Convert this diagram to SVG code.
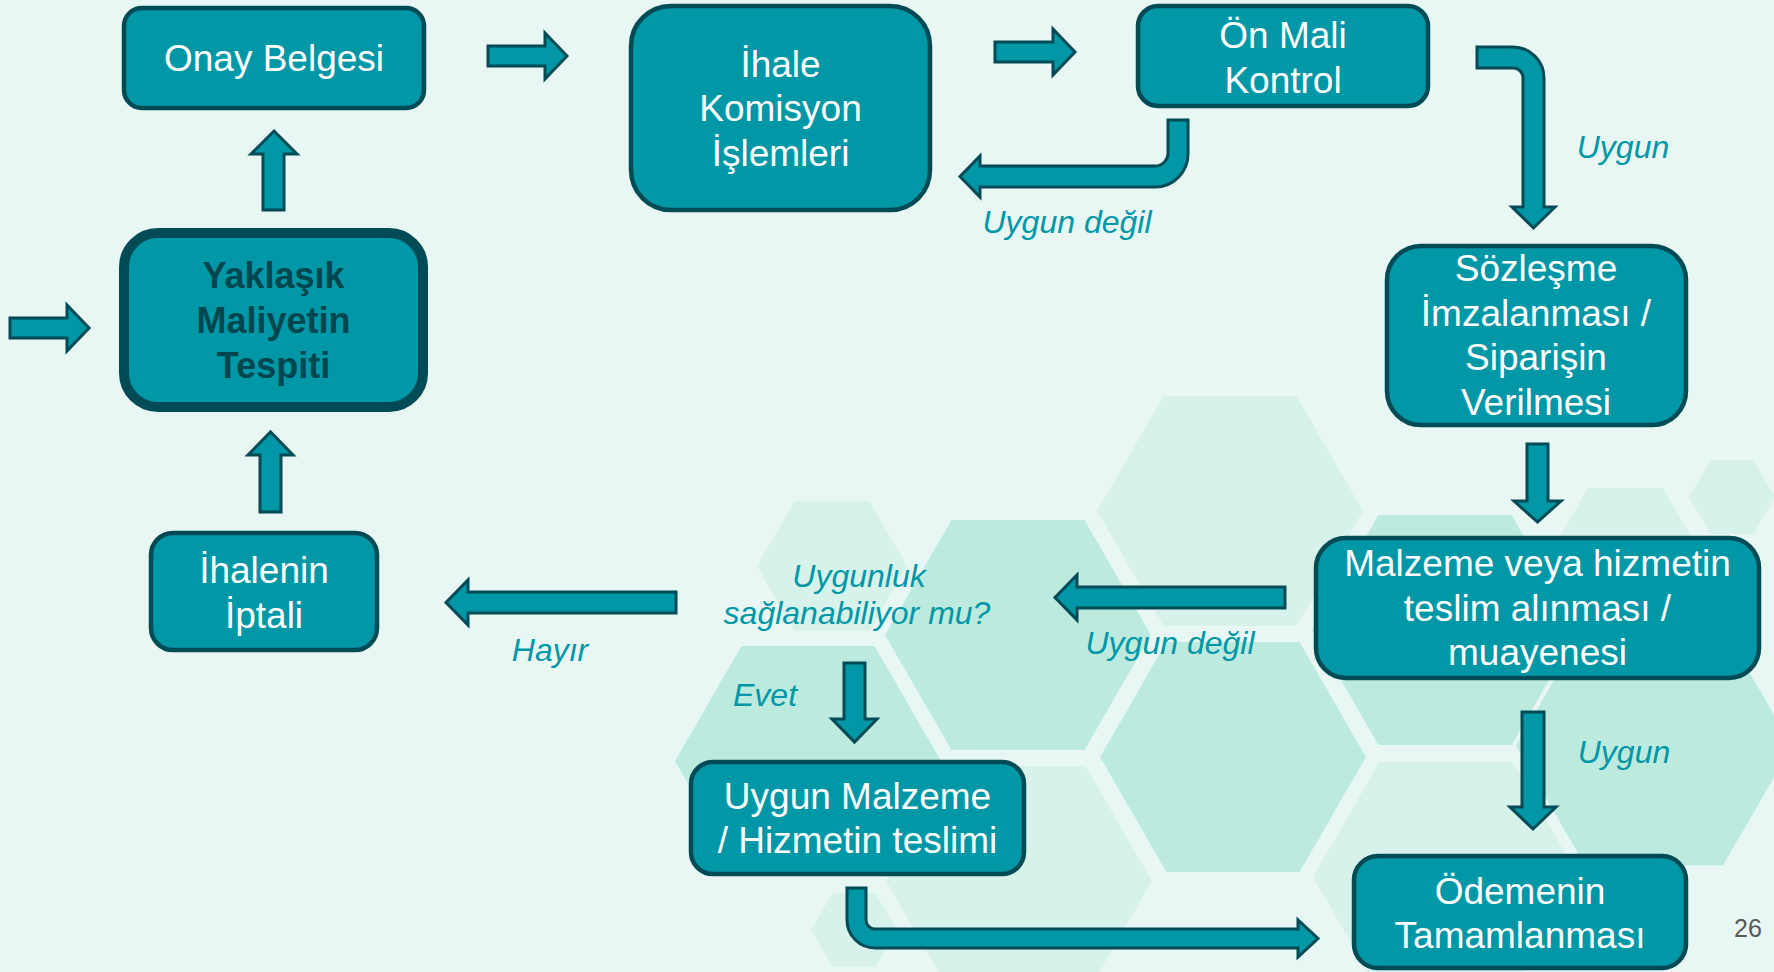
<svg xmlns="http://www.w3.org/2000/svg" width="1774" height="972" viewBox="0 0 1774 972">
<style>
.bg{fill:#e8f7f4}
.hl{fill:#d7f2eb}
.hd{fill:#bdeadf}
.box{fill:#0097a6;stroke:#004b55;stroke-width:4.5}
.boxb{fill:#0097a6;stroke:#004b55;stroke-width:10}
.arr{fill:#0097a6;stroke:#004b55;stroke-width:3;stroke-linejoin:miter}
.t{font-family:"Liberation Sans",Arial,sans-serif;font-size:37px;fill:#ffffff;text-anchor:middle}
.tb{font-family:"Liberation Sans",Arial,sans-serif;font-size:36px;font-weight:bold;fill:#00464f;text-anchor:middle}
.lbl{font-family:"Liberation Sans",Arial,sans-serif;font-size:32px;font-style:italic;fill:#0097a6;text-anchor:middle}
.pg{font-family:"Liberation Sans",Arial,sans-serif;font-size:25px;fill:#595959;text-anchor:middle}
</style>
<rect class="bg" x="0" y="0" width="1774" height="972"/>
<g id="hexagons">
<polygon class="hl" points="1097,511 1163.5,396 1296.5,396 1363,511 1296.5,626 1163.5,626"/>
<polygon class="hd" points="885,635 951.5,520 1084.5,520 1151,635 1084.5,750 951.5,750"/>
<polygon class="hd" points="675,761 741.5,646 874.5,646 941,761 874.5,876 741.5,876"/>
<polygon class="hl" points="757,566 794.5,501 869.5,501 907,566 869.5,631 794.5,631"/>
<polygon class="hl" points="886,881 952.5,766 1085.5,766 1152,881 1085.5,996 952.5,996"/>
<polygon class="hl" points="811,930 832.5,893 875.5,893 897,930 875.5,967 832.5,967"/>
<polygon class="hd" points="1100,757 1166.5,642 1299.5,642 1366,757 1299.5,872 1166.5,872"/>
<polygon class="hd" points="1312,630 1378.5,515 1511.5,515 1578,630 1511.5,745 1378.5,745"/>
<polygon class="hl" points="1313,877 1379.5,762 1512.5,762 1579,877 1512.5,992 1379.5,992"/>
<polygon class="hd" points="1516,746 1585,626.5 1723,626.5 1792,746 1723,865.5 1585,865.5"/>
<polygon class="hl" points="1550.5,553 1588,488 1663,488 1700.5,553 1663,618 1588,618"/>
<polygon class="hl" points="1689,497 1710.5,460 1753.5,460 1775,497 1753.5,534 1710.5,534"/>
</g>
<g id="connectors">
<polygon class="arr" points="10,318 67,318 67,305 89,328 67,351 67,338 10,338"/>
<polygon class="arr" points="263,210 263,154 251,154 274,131 297,154 284,154 284,210"/>
<polygon class="arr" points="488,46 545,46 545,33 567,56 545,79 545,66 488,66"/>
<polygon class="arr" points="995,42 1053,42 1053,29 1075,52 1053,75 1053,62 995,62"/>
<path class="arr" d="M1168 120 L1188 120 L1188 154 A33 33 0 0 1 1155 187 L980 187 L980 197 L960 176.5 L980 156 L980 166 L1155 166 A13 13 0 0 0 1168 153 Z"/>
<path class="arr" d="M1477 47 L1513 47 A31 31 0 0 1 1544 78 L1544 207 L1555 207 L1533.5 228 L1512 207 L1523 207 L1523 78 A10 10 0 0 0 1513 68 L1477 68 Z"/>
<polygon class="arr" points="1527,444 1548,444 1548,501 1561,501 1537.5,522 1514,501 1527,501"/>
<polygon class="arr" points="260,512 260,455 248,455 270.5,432 293,455 281,455 281,512"/>
<polygon class="arr" points="676,592 468,592 468,580 446,602.5 468,625 468,613 676,613"/>
<polygon class="arr" points="1285,587 1077,587 1077,575 1055,597.5 1077,620 1077,608 1285,608"/>
<polygon class="arr" points="844,663 865,663 865,719 877,719 854.5,742 832,719 844,719"/>
<polygon class="arr" points="1522,712 1544,712 1544,807 1556,807 1533,829 1510,807 1522,807"/>
<path class="arr" d="M847 888 L866 888 L866 920 A9 9 0 0 0 875 929 L1298 929 L1298 920 L1318 938.5 L1298 957 L1298 948 L875 948 A28 28 0 0 1 847 920 Z"/>
</g>
<g id="labels">
<text class="lbl" x="1067" y="233">Uygun değil</text>
<text class="lbl" x="1623" y="158">Uygun</text>
<text class="lbl" x="550" y="661">Hayır</text>
<text class="lbl" x="859" y="587">Uygunluk</text>
<text class="lbl" x="857" y="624">sağlanabiliyor mu?</text>
<text class="lbl" x="765" y="706">Evet</text>
<text class="lbl" x="1170" y="654">Uygun değil</text>
<text class="lbl" x="1624" y="763">Uygun</text>
</g>
<g id="node-onay">
<rect class="box" x="124" y="8" width="300" height="100" rx="18"/>
<text class="t" x="274" y="71">Onay Belgesi</text>
</g>
<g id="node-ihale">
<rect class="box" x="631" y="6" width="299" height="204" rx="40"/>
<text class="t" x="780.5" y="77">İhale</text>
<text class="t" x="780.5" y="121">Komisyon</text>
<text class="t" x="780.5" y="166">İşlemleri</text>
</g>
<g id="node-onmali">
<rect class="box" x="1138" y="6" width="290" height="100" rx="20"/>
<text class="t" x="1283" y="48">Ön Mali</text>
<text class="t" x="1283" y="93">Kontrol</text>
</g>
<g id="node-yaklasik">
<rect class="boxb" x="124" y="233" width="299" height="174" rx="34"/>
<text class="tb" x="273.5" y="288">Yaklaşık</text>
<text class="tb" x="273.5" y="333">Maliyetin</text>
<text class="tb" x="273.5" y="378">Tespiti</text>
</g>
<g id="node-sozlesme">
<rect class="box" x="1387" y="246" width="299" height="179" rx="34"/>
<text class="t" x="1536" y="281">Sözleşme</text>
<text class="t" x="1536" y="326">İmzalanması /</text>
<text class="t" x="1536" y="370">Siparişin</text>
<text class="t" x="1536" y="415">Verilmesi</text>
</g>
<g id="node-malzeme">
<rect class="box" x="1316" y="538" width="443" height="140" rx="30"/>
<text class="t" x="1537.5" y="576">Malzeme veya hizmetin</text>
<text class="t" x="1537.5" y="621">teslim alınması /</text>
<text class="t" x="1537.5" y="665">muayenesi</text>
</g>
<g id="node-odeme">
<rect class="box" x="1354" y="856" width="332" height="112" rx="24"/>
<text class="t" x="1520" y="904">Ödemenin</text>
<text class="t" x="1520" y="948">Tamamlanması</text>
</g>
<g id="node-uygunmalzeme">
<rect class="box" x="691" y="762" width="333" height="112" rx="22"/>
<text class="t" x="857.5" y="809">Uygun Malzeme</text>
<text class="t" x="857.5" y="853">/ Hizmetin teslimi</text>
</g>
<g id="node-iptal">
<rect class="box" x="151" y="533" width="226" height="117" rx="22"/>
<text class="t" x="264" y="583">İhalenin</text>
<text class="t" x="264" y="628">İptali</text>
</g>
<text class="pg" x="1748" y="937">26</text>
</svg>
